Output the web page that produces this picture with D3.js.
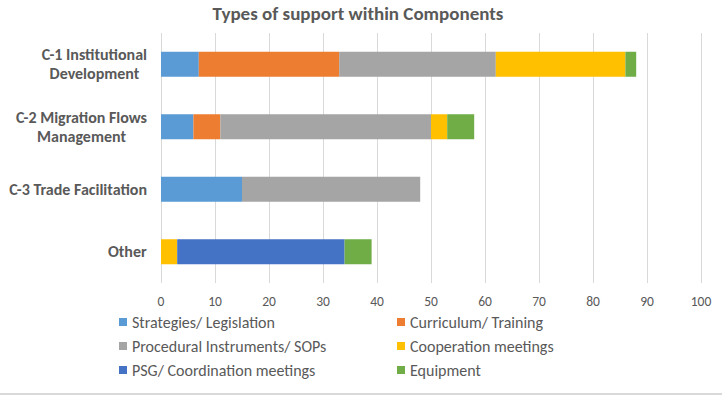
<!DOCTYPE html>
<html>
<head>
<meta charset="utf-8">
<script src="https://cdn.jsdelivr.net/npm/d3@7"></script>
<style>
	body { margin: 0; background: #fff; }
	svg text { font-family: Carlito, Calibri, Lato, sans-serif; fill: #595959; }
	.title { font-size: 19px; font-weight: bold; }
	.cat { font-size: 16px; font-weight: bold; }
	.tick-label { font-size: 13.5px; }
	.legend-text { font-size: 16px; }
</style>
</head>
<body>
<div id="bar-chart"></div>
<script>
// chart data
var categories = ["C-1 Institutional Development", "C-2 Migration Flows Management", "C-3 Trade Facilitation", "Other"];
var categoryLines = [["C-1 Institutional", "Development"], ["C-2 Migration Flows", "Management"], ["C-3 Trade Facilitation"], ["Other"]];
var seriesNames = ["Strategies/ Legislation", "Curriculum/ Training", "Procedural Instruments/ SOPs", "Cooperation meetings", "PSG/ Coordination meetings", "Equipment"];
var colors = ["#5B9BD5", "#ED7D31", "#A5A5A5", "#FFC000", "#4472C4", "#70AD47"];

var strategies  = [7, 6, 15, 0];
var curriculum  = [26, 5, 0, 0];
var procedural  = [29, 39, 33, 0];
var cooperation = [24, 3, 0, 3];
var psg         = [0, 0, 0, 31];
var equipment   = [2, 5, 0, 5];

var xTicks = [0, 10, 20, 30, 40, 50, 60, 70, 80, 90, 100];

var seriesValues = [strategies, curriculum, procedural, cooperation, psg, equipment];

var rows = categories.map(function(c, i) {
	var row = { category: c };
	seriesNames.forEach(function(s, j) { row[s] = seriesValues[j][i]; });
	return row;
});

var svg = d3.select("#bar-chart").append("svg")
	.attr("width", 722)
	.attr("height", 395);

var x = d3.scaleLinear().domain([0, 100]).range([161, 701]);
var y = d3.scaleBand().domain(categories).range([33, 283]).paddingInner(0.6).paddingOuter(0.3);

// title
svg.append("text")
	.attr("class", "title")
	.attr("x", 358)
	.attr("y", 20)
	.attr("text-anchor", "middle")
	.text("Types of support within Components");

// gridlines
svg.selectAll("line.grid")
	.data(xTicks)
	.enter()
	.append("line")
	.attr("class", "grid")
	.attr("x1", function(d) { return x(d) + 0.5; })
	.attr("x2", function(d) { return x(d) + 0.5; })
	.attr("y1", 33)
	.attr("y2", 283)
	.attr("stroke", "#d9d9d9")
	.attr("stroke-width", 1);

// tick labels
svg.selectAll("text.tick-label")
	.data(xTicks)
	.enter()
	.append("text")
	.attr("class", "tick-label")
	.attr("x", function(d) { return x(d); })
	.attr("y", 306)
	.attr("text-anchor", "middle")
	.text(function(d) { return d; });

// stacked bars
var stack = d3.stack().keys(seriesNames);
var layers = stack(rows);

svg.selectAll("g.layer")
	.data(layers)
	.enter()
	.append("g")
	.attr("class", "layer")
	.attr("fill", function(d, i) { return colors[i]; })
	.selectAll("rect")
	.data(function(d) { return d; })
	.enter()
	.append("rect")
	.attr("x", function(d) { return x(d[0]); })
	.attr("y", function(d) { return y(d.data.category); })
	.attr("width", function(d) { return x(d[1]) - x(d[0]); })
	.attr("height", y.bandwidth());

// category labels
svg.selectAll("text.cat")
	.data(categories)
	.enter()
	.append("text")
	.attr("class", "cat")
	.attr("text-anchor", "middle")
	.each(function(d, i) {
		var lines = categoryLines[i];
		var cy = y(d) + y.bandwidth() / 2;
		var lh = 19;
		var t = d3.select(this);
		lines.forEach(function(l, k) {
			t.append("tspan")
				.attr("x", 80)
				.attr("y", cy + 5.5 + (k - (lines.length - 1) / 2) * lh)
				.text(l);
		});
	});
// right-align each label block to x=147
svg.selectAll("text.cat").each(function() {
	var bb = this.getBBox();
	var shift = 147 - (bb.x + bb.width);
	d3.select(this).selectAll("tspan").attr("x", 80 + shift);
});

// legend
var legend = svg.selectAll("g.legend")
	.data(seriesNames)
	.enter()
	.append("g")
	.attr("class", "legend")
	.attr("transform", function(d, i) {
		return "translate(" + (i % 2 === 0 ? 119 : 397) + "," + (322 + Math.floor(i / 2) * 24) + ")";
	});

legend.append("rect")
	.attr("x", 0)
	.attr("y", -4)
	.attr("width", 8)
	.attr("height", 8)
	.attr("fill", function(d, i) { return colors[i]; });

legend.append("text")
	.attr("class", "legend-text")
	.attr("x", 13)
	.attr("y", 5.5)
	.text(function(d) { return d; });

// bottom border
svg.append("line")
	.attr("x1", 0)
	.attr("x2", 722)
	.attr("y1", 394)
	.attr("y2", 394)
	.attr("stroke", "#d9d9d9")
	.attr("stroke-width", 2);
</script>
</body>
</html>
